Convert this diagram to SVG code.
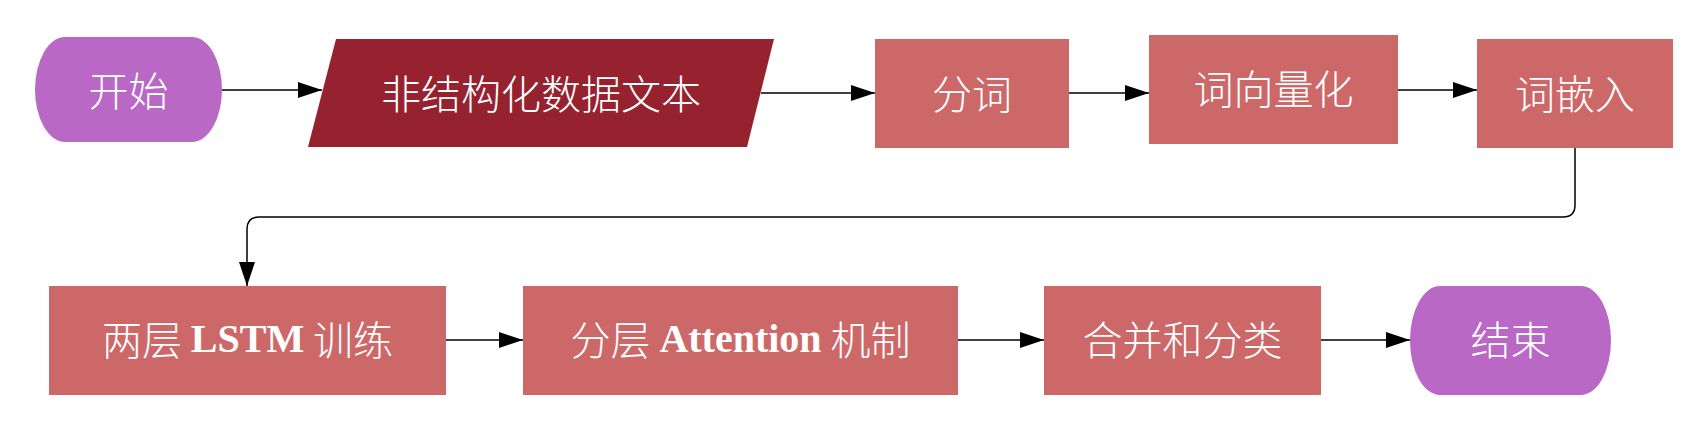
<svg xmlns="http://www.w3.org/2000/svg" width="1703" height="425" viewBox="0 0 1703 425">
<style>
.term{fill:#b968c5}
.proc{fill:#cd6868}
.io{fill:#96222f}
.t{fill:#ffffff;font-family:"Noto Sans CJK SC","Liberation Serif",serif;font-size:40px;font-weight:300;text-anchor:middle;dominant-baseline:central}
.b{font-family:"Liberation Serif",serif;font-weight:bold}
.c{fill:none;stroke:#000;stroke-width:1.5}
</style>
<defs>
<marker id="ah" markerUnits="userSpaceOnUse" markerWidth="24" markerHeight="16" refX="24" refY="8" orient="auto">
<path d="M0,0 L24,8 L0,16 z" fill="#000"/>
</marker>
</defs>
<rect width="1703" height="425" fill="#fff"/>
<g id="connectors">
<path class="c" d="M222,90 L322,90" marker-end="url(#ah)"/>
<path class="c" d="M761,93 L875,93" marker-end="url(#ah)"/>
<path class="c" d="M1068,93 L1149,93" marker-end="url(#ah)"/>
<path class="c" d="M1397,90 L1477,90" marker-end="url(#ah)"/>
<path class="c" d="M1575,148 L1575,205 Q1575,217 1563,217 L259,217 Q247,217 247,229 L247,286" marker-end="url(#ah)"/>
<path class="c" d="M446,340 L523,340" marker-end="url(#ah)"/>
<path class="c" d="M958,340 L1044,340" marker-end="url(#ah)"/>
<path class="c" d="M1321,340 L1410,340" marker-end="url(#ah)"/>
</g>
<g id="start">
<rect class="term" x="35" y="37" width="187" height="105" rx="30" ry="52.5"/>
<text class="t" x="128.5" y="89">开始</text>
</g>
<g id="input">
<polygon class="io" points="336,39 774,39 747,147 308,147"/>
<text class="t" x="541" y="92">非结构化数据文本</text>
</g>
<g id="seg">
<rect class="proc" x="875" y="39" width="194" height="109"/>
<text class="t" x="972" y="92">分词</text>
</g>
<g id="vec">
<rect class="proc" x="1149" y="35" width="249" height="109"/>
<text class="t" x="1273.5" y="87">词向量化</text>
</g>
<g id="embed">
<rect class="proc" x="1477" y="39" width="196" height="109"/>
<text class="t" x="1575" y="92">词嵌入</text>
</g>
<g id="lstm">
<rect class="proc" x="49" y="286" width="397" height="109"/>
<text class="t" x="247.5" y="338">两层 <tspan class="b">LSTM</tspan> 训练</text>
</g>
<g id="attn">
<rect class="proc" x="523" y="286" width="435" height="109"/>
<text class="t" x="740.5" y="338">分层 <tspan class="b">Attention</tspan> 机制</text>
</g>
<g id="merge">
<rect class="proc" x="1044" y="286" width="277" height="109"/>
<text class="t" x="1182.5" y="338">合并和分类</text>
</g>
<g id="end">
<rect class="term" x="1410" y="286" width="201" height="109" rx="30" ry="54.5"/>
<text class="t" x="1510.5" y="338">结束</text>
</g>
</svg>
